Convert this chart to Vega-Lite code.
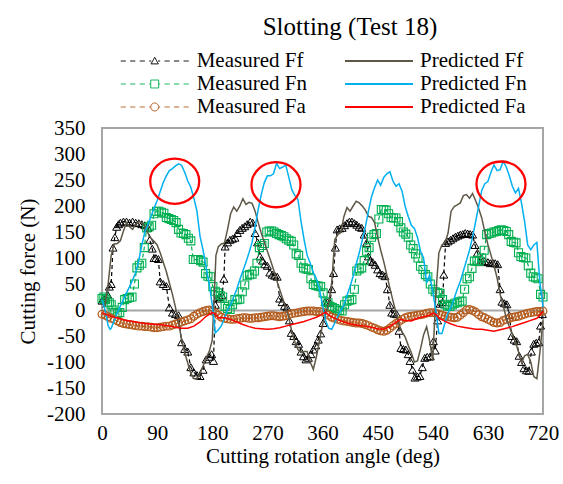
{
"$schema": "https://vega.github.io/schema/vega-lite/v6.json",
"width": 441, "height": 286,
"autosize": {"type": "none"},
"padding": {"left": 102, "top": 128, "right": 20, "bottom": 70},
"background": "white",
"title": {"text": "Slotting (Test 18)", "anchor": "middle", "dx": 27.5, "font": "Liberation Serif", "fontSize": 25, "fontWeight": "normal", "color": "#000000", "offset": 10},
"datasets": {
"mff": [{"a":0,"v":18},{"a":3,"v":20},{"a":6,"v":22},{"a":9,"v":30},{"a":12,"v":45},{"a":15,"v":50},{"a":18,"v":120},{"a":21,"v":140},{"a":24,"v":160},{"a":27,"v":165},{"a":30,"v":168},{"a":35,"v":170},{"a":40,"v":170},{"a":45,"v":168},{"a":50,"v":170},{"a":55,"v":168},{"a":60,"v":167},{"a":65,"v":165},{"a":70,"v":163},{"a":75,"v":158},{"a":78,"v":135},{"a":82,"v":118},{"a":85,"v":100},{"a":88,"v":100},{"a":92,"v":98},{"a":95,"v":55},{"a":100,"v":50},{"a":105,"v":46},{"a":110,"v":5},{"a":115,"v":-5},{"a":120,"v":-8},{"a":125,"v":-10},{"a":130,"v":-62},{"a":135,"v":-75},{"a":140,"v":-80},{"a":145,"v":-110},{"a":150,"v":-120},{"a":155,"v":-125},{"a":160,"v":-127},{"a":165,"v":-115},{"a":170,"v":-95},{"a":175,"v":-90},{"a":179,"v":-85},{"a":182,"v":-98},{"a":185,"v":10},{"a":188,"v":22},{"a":192,"v":25},{"a":196,"v":28},{"a":199,"v":60},{"a":201,"v":122},{"a":205,"v":130},{"a":209,"v":135},{"a":213,"v":137},{"a":217,"v":139},{"a":221,"v":148},{"a":225,"v":154},{"a":229,"v":158},{"a":233,"v":161},{"a":237,"v":165},{"a":242,"v":170},{"a":246,"v":168},{"a":250,"v":148},{"a":254,"v":130},{"a":258,"v":103},{"a":262,"v":95},{"a":266,"v":88},{"a":270,"v":85},{"a":274,"v":72},{"a":278,"v":68},{"a":282,"v":66},{"a":286,"v":64},{"a":290,"v":22},{"a":294,"v":15},{"a":298,"v":8},{"a":302,"v":5},{"a":306,"v":-20},{"a":309,"v":-44},{"a":313,"v":-50},{"a":317,"v":-60},{"a":321,"v":-65},{"a":325,"v":-80},{"a":329,"v":-89},{"a":333,"v":-95},{"a":337,"v":-92},{"a":341,"v":-85},{"a":345,"v":-76},{"a":349,"v":-68},{"a":353,"v":-57},{"a":357,"v":-45},{"a":361,"v":-25},{"a":364,"v":15},{"a":368,"v":15},{"a":372,"v":14},{"a":375,"v":40},{"a":378,"v":71},{"a":381,"v":120},{"a":384,"v":155},{"a":388,"v":157},{"a":392,"v":158},{"a":396,"v":163},{"a":400,"v":167},{"a":404,"v":170},{"a":408,"v":170},{"a":412,"v":167},{"a":416,"v":164},{"a":420,"v":160},{"a":424,"v":158},{"a":428,"v":145},{"a":432,"v":129},{"a":435,"v":103},{"a":438,"v":95},{"a":442,"v":92},{"a":446,"v":87},{"a":450,"v":78},{"a":454,"v":71},{"a":458,"v":68},{"a":462,"v":65},{"a":466,"v":40},{"a":470,"v":10},{"a":473,"v":-5},{"a":477,"v":-7},{"a":481,"v":-8},{"a":485,"v":-40},{"a":488,"v":-73},{"a":492,"v":-75},{"a":496,"v":-76},{"a":500,"v":-85},{"a":503,"v":-98},{"a":507,"v":-115},{"a":511,"v":-130},{"a":515,"v":-128},{"a":519,"v":-127},{"a":523,"v":-110},{"a":527,"v":-92},{"a":531,"v":-90},{"a":536,"v":-89},{"a":541,"v":-60},{"a":544,"v":-78},{"a":548,"v":-20},{"a":552,"v":12},{"a":556,"v":15},{"a":558,"v":68},{"a":561,"v":129},{"a":565,"v":132},{"a":569,"v":135},{"a":573,"v":138},{"a":577,"v":141},{"a":581,"v":143},{"a":585,"v":145},{"a":589,"v":146},{"a":593,"v":148},{"a":597,"v":147},{"a":601,"v":146},{"a":605,"v":145},{"a":609,"v":125},{"a":613,"v":110},{"a":617,"v":92},{"a":621,"v":93},{"a":625,"v":94},{"a":630,"v":92},{"a":634,"v":90},{"a":638,"v":91},{"a":642,"v":90},{"a":646,"v":88},{"a":650,"v":40},{"a":653,"v":16},{"a":657,"v":13},{"a":661,"v":11},{"a":665,"v":-10},{"a":669,"v":-50},{"a":673,"v":-57},{"a":677,"v":-60},{"a":681,"v":-88},{"a":685,"v":-100},{"a":689,"v":-112},{"a":693,"v":-116},{"a":697,"v":-117},{"a":701,"v":-80},{"a":705,"v":-65},{"a":709,"v":-63},{"a":713,"v":-62},{"a":716,"v":-30},{"a":719,"v":-8}],
"mfn": [{"a":0,"v":22},{"a":3,"v":25},{"a":6,"v":20},{"a":9,"v":15},{"a":12,"v":14},{"a":15,"v":10},{"a":18,"v":0},{"a":21,"v":-5},{"a":25,"v":-6},{"a":29,"v":-5},{"a":33,"v":5},{"a":37,"v":20},{"a":41,"v":22},{"a":45,"v":24},{"a":49,"v":25},{"a":53,"v":50},{"a":57,"v":81},{"a":61,"v":86},{"a":65,"v":90},{"a":69,"v":120},{"a":73,"v":158},{"a":77,"v":160},{"a":81,"v":163},{"a":85,"v":185},{"a":89,"v":190},{"a":93,"v":190},{"a":97,"v":188},{"a":101,"v":186},{"a":105,"v":178},{"a":109,"v":176},{"a":113,"v":174},{"a":117,"v":172},{"a":121,"v":168},{"a":125,"v":155},{"a":129,"v":148},{"a":133,"v":147},{"a":137,"v":145},{"a":141,"v":138},{"a":145,"v":133},{"a":149,"v":97},{"a":153,"v":97},{"a":157,"v":97},{"a":161,"v":95},{"a":165,"v":92},{"a":169,"v":70},{"a":173,"v":65},{"a":177,"v":64},{"a":181,"v":45},{"a":185,"v":36},{"a":189,"v":33},{"a":193,"v":28},{"a":197,"v":25},{"a":201,"v":7},{"a":205,"v":3},{"a":209,"v":1},{"a":213,"v":10},{"a":217,"v":20},{"a":221,"v":20},{"a":225,"v":21},{"a":229,"v":35},{"a":233,"v":48},{"a":237,"v":66},{"a":241,"v":68},{"a":245,"v":69},{"a":249,"v":75},{"a":253,"v":90},{"a":257,"v":120},{"a":261,"v":124},{"a":265,"v":128},{"a":269,"v":150},{"a":273,"v":152},{"a":277,"v":152},{"a":281,"v":150},{"a":285,"v":147},{"a":289,"v":145},{"a":293,"v":143},{"a":297,"v":141},{"a":301,"v":137},{"a":305,"v":134},{"a":309,"v":132},{"a":313,"v":125},{"a":317,"v":108},{"a":321,"v":105},{"a":325,"v":90},{"a":329,"v":81},{"a":333,"v":79},{"a":337,"v":78},{"a":341,"v":60},{"a":345,"v":49},{"a":349,"v":47},{"a":353,"v":46},{"a":357,"v":45},{"a":361,"v":33},{"a":365,"v":16},{"a":369,"v":14},{"a":372,"v":7},{"a":376,"v":5},{"a":380,"v":3},{"a":384,"v":0},{"a":388,"v":-1},{"a":392,"v":-2},{"a":396,"v":10},{"a":400,"v":17},{"a":404,"v":19},{"a":408,"v":20},{"a":412,"v":40},{"a":416,"v":75},{"a":420,"v":79},{"a":424,"v":81},{"a":428,"v":95},{"a":432,"v":113},{"a":436,"v":120},{"a":440,"v":140},{"a":444,"v":145},{"a":448,"v":147},{"a":452,"v":175},{"a":456,"v":193},{"a":460,"v":193},{"a":464,"v":192},{"a":468,"v":185},{"a":472,"v":178},{"a":476,"v":177},{"a":480,"v":177},{"a":484,"v":170},{"a":488,"v":158},{"a":492,"v":150},{"a":496,"v":146},{"a":500,"v":140},{"a":504,"v":125},{"a":508,"v":118},{"a":512,"v":108},{"a":516,"v":100},{"a":520,"v":84},{"a":524,"v":78},{"a":528,"v":68},{"a":532,"v":64},{"a":536,"v":50},{"a":540,"v":40},{"a":544,"v":35},{"a":548,"v":33},{"a":552,"v":32},{"a":556,"v":20},{"a":560,"v":11},{"a":564,"v":8},{"a":568,"v":7},{"a":572,"v":10},{"a":576,"v":13},{"a":580,"v":14},{"a":584,"v":16},{"a":588,"v":17},{"a":592,"v":40},{"a":596,"v":60},{"a":600,"v":64},{"a":604,"v":80},{"a":608,"v":94},{"a":612,"v":94},{"a":616,"v":94},{"a":620,"v":100},{"a":624,"v":115},{"a":628,"v":145},{"a":632,"v":147},{"a":636,"v":148},{"a":640,"v":150},{"a":644,"v":151},{"a":648,"v":153},{"a":652,"v":154},{"a":656,"v":153},{"a":660,"v":151},{"a":664,"v":145},{"a":668,"v":132},{"a":672,"v":130},{"a":676,"v":129},{"a":680,"v":110},{"a":684,"v":103},{"a":688,"v":101},{"a":692,"v":100},{"a":696,"v":85},{"a":700,"v":71},{"a":704,"v":64},{"a":708,"v":62},{"a":712,"v":60},{"a":716,"v":30},{"a":720,"v":25}],
"mfa": [{"a":0,"v":-8},{"a":5,"v":-10},{"a":10,"v":-13},{"a":15,"v":-16},{"a":20,"v":-18},{"a":25,"v":-21},{"a":30,"v":-24},{"a":35,"v":-26},{"a":40,"v":-27},{"a":45,"v":-28},{"a":50,"v":-29},{"a":55,"v":-30},{"a":60,"v":-31},{"a":65,"v":-31},{"a":70,"v":-32},{"a":75,"v":-32},{"a":80,"v":-33},{"a":85,"v":-34},{"a":90,"v":-34},{"a":95,"v":-33},{"a":100,"v":-32},{"a":105,"v":-31},{"a":110,"v":-31},{"a":115,"v":-29},{"a":120,"v":-27},{"a":125,"v":-25},{"a":130,"v":-23},{"a":135,"v":-21},{"a":140,"v":-19},{"a":145,"v":-17},{"a":150,"v":-12},{"a":155,"v":-8},{"a":160,"v":-5},{"a":165,"v":-3},{"a":170,"v":-1},{"a":175,"v":0},{"a":180,"v":-2},{"a":185,"v":-5},{"a":190,"v":-10},{"a":195,"v":-14},{"a":200,"v":-16},{"a":205,"v":-17},{"a":210,"v":-18},{"a":215,"v":-18},{"a":220,"v":-17},{"a":225,"v":-16},{"a":230,"v":-15},{"a":235,"v":-15},{"a":240,"v":-16},{"a":245,"v":-16},{"a":250,"v":-15},{"a":255,"v":-15},{"a":260,"v":-14},{"a":265,"v":-13},{"a":270,"v":-12},{"a":275,"v":-11},{"a":280,"v":-11},{"a":285,"v":-12},{"a":290,"v":-13},{"a":295,"v":-12},{"a":300,"v":-11},{"a":305,"v":-9},{"a":310,"v":-7},{"a":315,"v":-6},{"a":320,"v":-5},{"a":325,"v":-4},{"a":330,"v":-3},{"a":335,"v":-2},{"a":340,"v":-2},{"a":345,"v":-2},{"a":350,"v":-3},{"a":355,"v":-3},{"a":360,"v":-4},{"a":365,"v":-6},{"a":370,"v":-10},{"a":375,"v":-14},{"a":380,"v":-16},{"a":385,"v":-18},{"a":390,"v":-20},{"a":395,"v":-21},{"a":400,"v":-22},{"a":405,"v":-23},{"a":410,"v":-24},{"a":415,"v":-25},{"a":420,"v":-25},{"a":425,"v":-26},{"a":430,"v":-28},{"a":435,"v":-30},{"a":440,"v":-33},{"a":445,"v":-35},{"a":450,"v":-38},{"a":455,"v":-40},{"a":460,"v":-41},{"a":465,"v":-39},{"a":470,"v":-35},{"a":475,"v":-30},{"a":480,"v":-26},{"a":485,"v":-22},{"a":490,"v":-18},{"a":495,"v":-15},{"a":500,"v":-13},{"a":505,"v":-12},{"a":510,"v":-11},{"a":515,"v":-10},{"a":520,"v":-9},{"a":525,"v":-8},{"a":530,"v":-6},{"a":535,"v":-5},{"a":540,"v":-5},{"a":545,"v":-6},{"a":550,"v":-8},{"a":555,"v":-10},{"a":560,"v":-12},{"a":565,"v":-13},{"a":570,"v":-14},{"a":575,"v":-15},{"a":580,"v":-14},{"a":585,"v":-10},{"a":590,"v":-5},{"a":595,"v":0},{"a":600,"v":1},{"a":605,"v":-1},{"a":610,"v":-4},{"a":615,"v":-9},{"a":620,"v":-13},{"a":625,"v":-15},{"a":630,"v":-18},{"a":635,"v":-21},{"a":640,"v":-24},{"a":645,"v":-25},{"a":650,"v":-24},{"a":655,"v":-20},{"a":660,"v":-18},{"a":665,"v":-16},{"a":670,"v":-14},{"a":675,"v":-13},{"a":680,"v":-12},{"a":685,"v":-10},{"a":690,"v":-8},{"a":695,"v":-6},{"a":700,"v":-5},{"a":705,"v":-4},{"a":710,"v":-3},{"a":715,"v":-3},{"a":720,"v":-2}],
"pff": [{"a":0,"v":5},{"a":5,"v":8},{"a":10,"v":50},{"a":15,"v":105},{"a":20,"v":127},{"a":25,"v":128},{"a":30,"v":133},{"a":35,"v":152},{"a":40,"v":168},{"a":45,"v":160},{"a":50,"v":155},{"a":55,"v":165},{"a":60,"v":170},{"a":65,"v":168},{"a":70,"v":160},{"a":75,"v":148},{"a":80,"v":138},{"a":85,"v":132},{"a":90,"v":125},{"a":95,"v":110},{"a":100,"v":92},{"a":105,"v":74},{"a":110,"v":52},{"a":115,"v":30},{"a":120,"v":5},{"a":125,"v":-25},{"a":130,"v":-57},{"a":135,"v":-82},{"a":140,"v":-102},{"a":145,"v":-122},{"a":150,"v":-132},{"a":155,"v":-133},{"a":160,"v":-122},{"a":165,"v":-108},{"a":170,"v":-92},{"a":175,"v":-80},{"a":180,"v":-58},{"a":183,"v":20},{"a":186,"v":105},{"a":190,"v":122},{"a":195,"v":127},{"a":200,"v":129},{"a":205,"v":155},{"a":210,"v":185},{"a":215,"v":198},{"a":220,"v":190},{"a":225,"v":200},{"a":230,"v":214},{"a":235,"v":203},{"a":240,"v":207},{"a":245,"v":205},{"a":250,"v":190},{"a":255,"v":168},{"a":260,"v":148},{"a":265,"v":130},{"a":270,"v":113},{"a":275,"v":96},{"a":280,"v":78},{"a":285,"v":58},{"a":290,"v":40},{"a":295,"v":22},{"a":300,"v":5},{"a":305,"v":-15},{"a":310,"v":-42},{"a":315,"v":-62},{"a":320,"v":-76},{"a":325,"v":-82},{"a":330,"v":-80},{"a":335,"v":-80},{"a":340,"v":-100},{"a":345,"v":-114},{"a":350,"v":-90},{"a":355,"v":-60},{"a":360,"v":-28},{"a":365,"v":-8},{"a":370,"v":12},{"a":375,"v":52},{"a":380,"v":135},{"a":385,"v":145},{"a":390,"v":150},{"a":395,"v":180},{"a":400,"v":197},{"a":405,"v":190},{"a":410,"v":200},{"a":415,"v":209},{"a":420,"v":206},{"a":425,"v":200},{"a":430,"v":192},{"a":435,"v":180},{"a":440,"v":178},{"a":445,"v":168},{"a":450,"v":140},{"a":455,"v":115},{"a":460,"v":93},{"a":465,"v":68},{"a":470,"v":42},{"a":475,"v":18},{"a":480,"v":-5},{"a":485,"v":-28},{"a":490,"v":-42},{"a":495,"v":-52},{"a":500,"v":-68},{"a":505,"v":-82},{"a":510,"v":-100},{"a":515,"v":-98},{"a":520,"v":-75},{"a":525,"v":-48},{"a":530,"v":-32},{"a":535,"v":-60},{"a":540,"v":-98},{"a":545,"v":30},{"a":550,"v":110},{"a":555,"v":125},{"a":560,"v":129},{"a":565,"v":148},{"a":570,"v":190},{"a":575,"v":199},{"a":580,"v":202},{"a":585,"v":206},{"a":590,"v":220},{"a":595,"v":222},{"a":600,"v":215},{"a":605,"v":224},{"a":610,"v":210},{"a":615,"v":195},{"a":620,"v":177},{"a":625,"v":150},{"a":630,"v":126},{"a":635,"v":106},{"a":640,"v":85},{"a":645,"v":62},{"a":650,"v":30},{"a":655,"v":8},{"a":660,"v":-15},{"a":665,"v":-32},{"a":670,"v":-46},{"a":675,"v":-62},{"a":680,"v":-80},{"a":685,"v":-101},{"a":690,"v":-88},{"a":695,"v":-85},{"a":700,"v":-100},{"a":705,"v":-128},{"a":710,"v":-132},{"a":715,"v":-80},{"a":720,"v":-20}],
"pfn": [{"a":0,"v":20},{"a":5,"v":0},{"a":10,"v":-30},{"a":13,"v":-37},{"a":15,"v":-35},{"a":20,"v":-20},{"a":25,"v":-5},{"a":30,"v":8},{"a":35,"v":20},{"a":40,"v":33},{"a":45,"v":45},{"a":50,"v":58},{"a":55,"v":72},{"a":60,"v":95},{"a":65,"v":125},{"a":70,"v":150},{"a":75,"v":165},{"a":80,"v":180},{"a":85,"v":196},{"a":90,"v":210},{"a":95,"v":228},{"a":100,"v":245},{"a":105,"v":258},{"a":110,"v":268},{"a":115,"v":272},{"a":120,"v":277},{"a":125,"v":281},{"a":130,"v":278},{"a":135,"v":265},{"a":140,"v":248},{"a":145,"v":236},{"a":150,"v":215},{"a":155,"v":190},{"a":160,"v":142},{"a":165,"v":115},{"a":170,"v":82},{"a":175,"v":50},{"a":180,"v":10},{"a":185,"v":-44},{"a":190,"v":-38},{"a":195,"v":-30},{"a":200,"v":-15},{"a":205,"v":0},{"a":210,"v":10},{"a":215,"v":25},{"a":220,"v":40},{"a":225,"v":58},{"a":230,"v":75},{"a":235,"v":92},{"a":240,"v":110},{"a":245,"v":130},{"a":250,"v":160},{"a":255,"v":193},{"a":260,"v":222},{"a":265,"v":245},{"a":270,"v":258},{"a":275,"v":258},{"a":280,"v":262},{"a":285,"v":282},{"a":290,"v":272},{"a":295,"v":275},{"a":300,"v":279},{"a":305,"v":255},{"a":310,"v":231},{"a":315,"v":220},{"a":320,"v":212},{"a":325,"v":170},{"a":330,"v":135},{"a":335,"v":105},{"a":340,"v":90},{"a":345,"v":72},{"a":350,"v":60},{"a":355,"v":40},{"a":360,"v":10},{"a":365,"v":-20},{"a":370,"v":-35},{"a":375,"v":-37},{"a":380,"v":-25},{"a":385,"v":-12},{"a":390,"v":0},{"a":395,"v":10},{"a":400,"v":28},{"a":405,"v":45},{"a":410,"v":65},{"a":415,"v":88},{"a":420,"v":110},{"a":425,"v":135},{"a":430,"v":160},{"a":435,"v":190},{"a":440,"v":218},{"a":445,"v":235},{"a":450,"v":250},{"a":455,"v":240},{"a":460,"v":255},{"a":465,"v":262},{"a":470,"v":266},{"a":475,"v":248},{"a":480,"v":238},{"a":485,"v":243},{"a":490,"v":228},{"a":495,"v":199},{"a":500,"v":180},{"a":505,"v":163},{"a":510,"v":157},{"a":515,"v":140},{"a":520,"v":113},{"a":525,"v":100},{"a":530,"v":52},{"a":535,"v":67},{"a":540,"v":35},{"a":545,"v":0},{"a":550,"v":-45},{"a":555,"v":-45},{"a":560,"v":-25},{"a":565,"v":-5},{"a":570,"v":5},{"a":575,"v":22},{"a":580,"v":40},{"a":585,"v":55},{"a":590,"v":75},{"a":595,"v":95},{"a":600,"v":115},{"a":605,"v":140},{"a":610,"v":170},{"a":615,"v":200},{"a":620,"v":230},{"a":625,"v":243},{"a":630,"v":247},{"a":635,"v":265},{"a":640,"v":279},{"a":645,"v":268},{"a":650,"v":270},{"a":655,"v":286},{"a":660,"v":275},{"a":665,"v":258},{"a":670,"v":238},{"a":675,"v":225},{"a":680,"v":234},{"a":685,"v":205},{"a":690,"v":170},{"a":695,"v":125},{"a":700,"v":116},{"a":705,"v":125},{"a":710,"v":130},{"a":715,"v":52},{"a":720,"v":5}],
"pfa": [{"a":0,"v":-5},{"a":10,"v":-10},{"a":20,"v":-14},{"a":30,"v":-17},{"a":40,"v":-20},{"a":50,"v":-22},{"a":60,"v":-24},{"a":70,"v":-26},{"a":80,"v":-27},{"a":90,"v":-28},{"a":100,"v":-29},{"a":110,"v":-31},{"a":120,"v":-33},{"a":130,"v":-35},{"a":140,"v":-35},{"a":150,"v":-31},{"a":160,"v":-23},{"a":170,"v":-12},{"a":180,"v":-5},{"a":185,"v":-8},{"a":190,"v":-15},{"a":200,"v":-15},{"a":210,"v":-18},{"a":220,"v":-23},{"a":230,"v":-28},{"a":240,"v":-32},{"a":250,"v":-35},{"a":260,"v":-36},{"a":270,"v":-37},{"a":280,"v":-36},{"a":290,"v":-34},{"a":300,"v":-31},{"a":310,"v":-28},{"a":320,"v":-25},{"a":330,"v":-22},{"a":340,"v":-18},{"a":350,"v":-14},{"a":360,"v":-8},{"a":365,"v":-4},{"a":370,"v":-10},{"a":380,"v":-16},{"a":390,"v":-21},{"a":400,"v":-25},{"a":410,"v":-28},{"a":420,"v":-30},{"a":430,"v":-31},{"a":440,"v":-33},{"a":450,"v":-36},{"a":460,"v":-37},{"a":470,"v":-32},{"a":480,"v":-24},{"a":487,"v":-18},{"a":495,"v":-20},{"a":505,"v":-21},{"a":515,"v":-16},{"a":525,"v":-13},{"a":535,"v":-10},{"a":540,"v":-6},{"a":545,"v":-8},{"a":550,"v":-15},{"a":560,"v":-22},{"a":570,"v":-27},{"a":580,"v":-31},{"a":590,"v":-33},{"a":600,"v":-35},{"a":610,"v":-37},{"a":620,"v":-37},{"a":630,"v":-39},{"a":640,"v":-41},{"a":650,"v":-38},{"a":660,"v":-35},{"a":670,"v":-32},{"a":680,"v":-28},{"a":690,"v":-24},{"a":700,"v":-20},{"a":710,"v":-16},{"a":720,"v":-3}],
"circ": [{"a":118.7,"v":247.6},{"a":284.1,"v":240.9},{"a":651.4,"v":242.2}]
},
"encoding": {
"x": {"field": "a", "type": "quantitative", "scale": {"domain": [0, 720], "nice": false, "zero": false}, "axis": {"values": [0, 90, 180, 270, 360, 450, 540, 630, 720], "title": "Cutting rotation angle (deg)", "labelPadding": 8, "titlePadding": 2, "labelFont": "Liberation Serif", "titleFont": "Liberation Serif"}},
"y": {"field": "v", "type": "quantitative", "scale": {"domain": [-200, 350], "nice": false}, "axis": {"values": [-200, -150, -100, -50, 0, 50, 100, 150, 200, 250, 300, 350], "title": "Cutting force (N)", "labelPadding": 17, "titlePadding": 8, "labelFont": "Liberation Serif", "titleFont": "Liberation Serif", "labelExpr": "'' + datum.value", "grid": true, "gridColor": "#a6a6a6", "gridWidth": 2, "gridOpacity": {"condition": {"test": "datum.value === 0", "value": 1}, "value": 0}}}
},
"layer": [
{"layer": [
{"data": {"name": "mff"}, "mark": {"type": "line", "strokeDash": [4, 3], "strokeWidth": 1.2},
 "encoding": {"color": {"datum": "Measured Ff", "type": "nominal", "scale": {"domain": ["Measured Ff", "Measured Fn", "Measured Fa"], "range": ["#000000", "#00b050", "#b35c1e"]},
  "legend": {"title": null, "orient": "none", "legendX": 18.2, "legendY": -78.25, "direction": "vertical", "columns": 1, "padding": 0, "rowPadding": 0, "clipHeight": 22.5, "symbolSize": 4624, "symbolStrokeWidth": 1, "labelOffset": 7.5, "labelFont": "Liberation Serif", "labelFontSize": 21, "labelColor": "#000000", "labelLimit": 400,
   "encode": {"symbols": {"update": {
     "shape": {"signal": "datum.value === 'Measured Ff' ? 'M-1,0H-0.85M-0.72,0H-0.57M-0.44,0H-0.29M-0.16,0H-0.1M0.1,0H0.16M0.29,0H0.44M0.57,0H0.72M0.85,0H1M0,-0.11L0.107,0.085L-0.107,0.085Z' : datum.value === 'Measured Fn' ? 'M-1,0H-0.85M-0.72,0H-0.57M-0.44,0H-0.29M-0.16,0H-0.117M0.117,0H0.16M0.29,0H0.44M0.57,0H0.72M0.85,0H1M-0.117,-0.117H0.117V0.117H-0.117Z' : 'M-1,0H-0.85M-0.72,0H-0.57M-0.44,0H-0.29M-0.16,0H-0.117M0.117,0H0.16M0.29,0H0.44M0.57,0H0.72M0.85,0H1M0.117,0A0.117,0.117 0 1,1 -0.117,0A0.117,0.117 0 1,1 0.117,0Z'"},
     "stroke": {"signal": "datum.value === 'Measured Ff' ? '#000000' : datum.value === 'Measured Fn' ? '#22b85e' : '#b35c1e'"},
     "fill": {"value": "#ffffff"},
     "strokeDash": {"value": [1, 0]},
     "opacity": {"value": 1},
     "strokeWidth": {"value": 1}}}}}}}},
{"data": {"name": "mff"}, "mark": {"type": "point", "shape": "triangle-up", "filled": false, "size": 64, "strokeWidth": 1, "opacity": 1},
 "encoding": {"color": {"datum": "Measured Ff", "type": "nominal"}}},
{"data": {"name": "mfn"}, "mark": {"type": "line", "strokeDash": [4, 3], "strokeWidth": 1.2},
 "encoding": {"color": {"datum": "Measured Fn", "type": "nominal"}}},
{"data": {"name": "mfn"}, "mark": {"type": "point", "shape": "square", "filled": false, "size": 64, "strokeWidth": 1.1, "opacity": 1},
 "encoding": {"color": {"datum": "Measured Fn", "type": "nominal"}}},
{"data": {"name": "mfa"}, "mark": {"type": "line", "strokeDash": [4, 3], "strokeWidth": 1.2},
 "encoding": {"color": {"datum": "Measured Fa", "type": "nominal"}}},
{"data": {"name": "mfa"}, "mark": {"type": "point", "shape": "circle", "filled": false, "size": 60, "strokeWidth": 1.2, "opacity": 1},
 "encoding": {"color": {"datum": "Measured Fa", "type": "nominal"}}}
]},
{"layer": [
{"data": {"name": "pff"}, "mark": {"type": "line", "strokeWidth": 1.5},
 "encoding": {"color": {"datum": "Predicted Ff", "type": "nominal", "scale": {"domain": ["Predicted Ff", "Predicted Fn", "Predicted Fa"], "range": ["#5f5848", "#00b0f0", "#ff0000"]},
  "legend": {"title": null, "orient": "none", "legendX": 242, "legendY": -78.25, "direction": "vertical", "columns": 1, "padding": 0, "rowPadding": 0, "clipHeight": 22.5, "symbolSize": 4624, "symbolStrokeWidth": 1.8, "labelOffset": 6, "labelFont": "Liberation Serif", "labelFontSize": 21, "labelColor": "#000000", "labelLimit": 400,
   "encode": {"symbols": {"update": {
     "shape": {"value": "M-1,0H1"},
     "stroke": {"signal": "datum.value === 'Predicted Ff' ? '#5f5848' : datum.value === 'Predicted Fn' ? '#00b0f0' : '#ff0000'"},
     "strokeDash": {"value": [1, 0]},
     "opacity": {"value": 1},
     "strokeWidth": {"value": 1.8}}}}}}}},
{"data": {"name": "pfn"}, "mark": {"type": "line", "strokeWidth": 1.5},
 "encoding": {"color": {"datum": "Predicted Fn", "type": "nominal"}}},
{"data": {"name": "pfa"}, "mark": {"type": "line", "strokeWidth": 1.5},
 "encoding": {"color": {"datum": "Predicted Fa", "type": "nominal"}}}
]},
{"data": {"name": "circ"}, "mark": {"type": "point", "shape": "M-1,0A1,0.92 0 1,1 1,0A1,0.92 0 1,1 -1,0Z", "size": 2401, "filled": false, "color": "#ff0000", "strokeWidth": 2.3, "opacity": 1}}
],
"resolve": {"scale": {"color": "independent"}},
"config": {
"font": "Liberation Serif",
"view": {"stroke": "#a6a6a6", "strokeWidth": 2},
"axis": {"labelFont": "Liberation Serif", "labelFontSize": 21, "labelColor": "#000000", "titleFont": "Liberation Serif", "titleFontSize": 21, "titleFontWeight": "normal", "titleColor": "#000000", "ticks": false, "domain": false, "grid": false, "labelOverlap": false, "labelFlush": false}
}
}
